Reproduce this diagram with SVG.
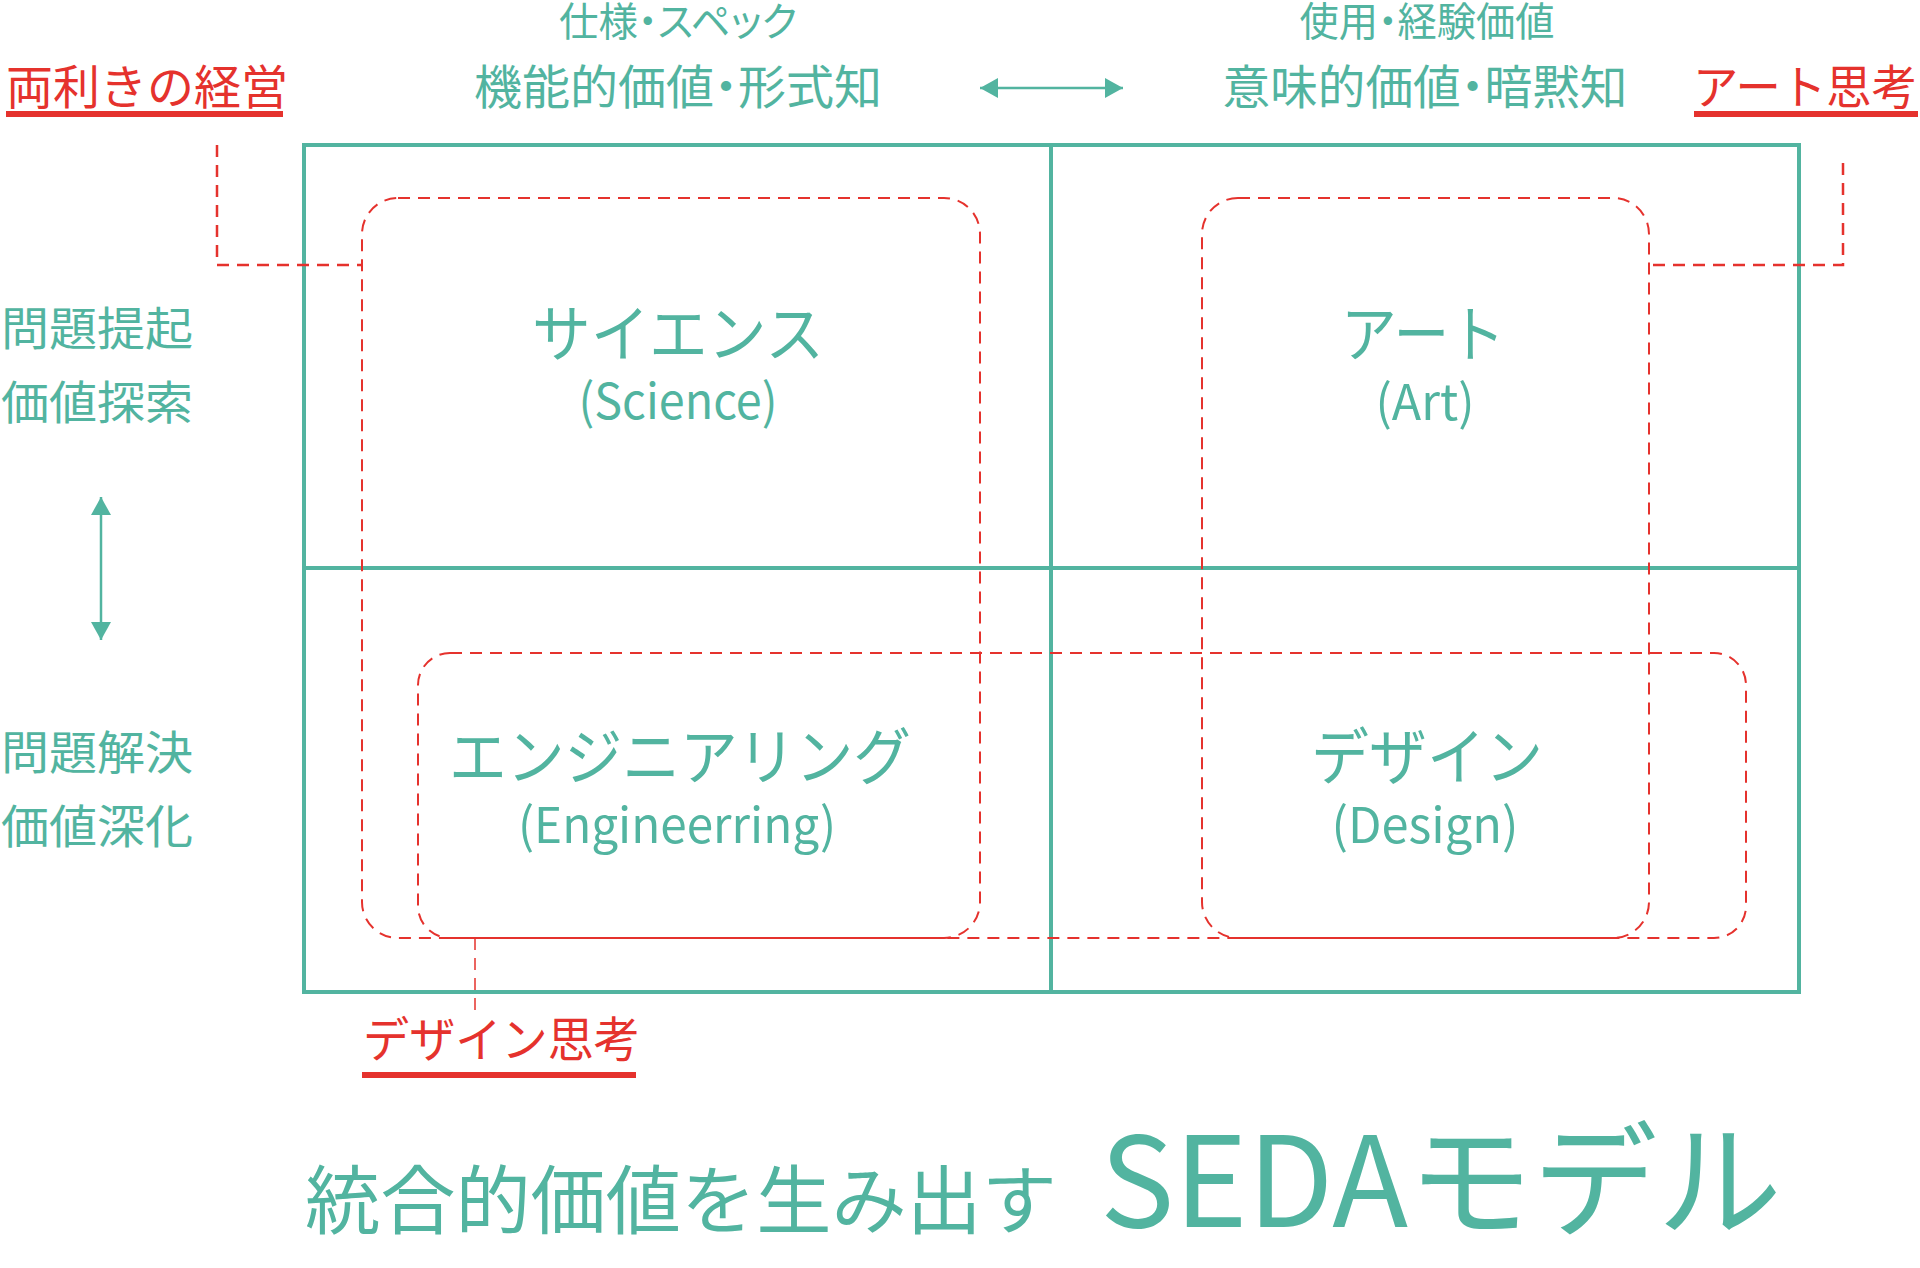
<svg xmlns="http://www.w3.org/2000/svg" width="1920" height="1268" viewBox="0 0 1920 1268">
<style>
text{font-family:"Noto Sans CJK JP","Noto Sans",sans-serif;}
.t{fill:#52b4a0;}
.r{fill:#e5322d;}
.p{font-feature-settings:"palt";}
.grid{fill:none;stroke:#52b4a0;stroke-width:4;}
.dash{fill:none;stroke:#e5322d;stroke-width:2;stroke-dasharray:12 8;}
.lead{fill:none;stroke:#e5322d;stroke-width:2.5;stroke-dasharray:12 8;}
.arr{stroke:#52b4a0;stroke-width:2.5;fill:none;marker-start:url(#ah);marker-end:url(#ah);}
</style>
<defs>
<marker id="ah" markerUnits="userSpaceOnUse" markerWidth="20" markerHeight="20" refX="18" refY="10" orient="auto-start-reverse">
<path d="M0,0 L18,10 L0,20 Z" fill="#52b4a0"/>
</marker>
</defs>
<rect width="1920" height="1268" fill="#ffffff"/>

<g id="matrix">
<rect class="grid" x="304" y="145" width="1495" height="847"/>
<line class="grid" x1="304" y1="568" x2="1799" y2="568"/>
<line class="grid" x1="1051" y1="145" x2="1051" y2="992"/>
</g>

<g id="group-science">
<rect class="dash" x="362" y="198" width="618" height="740" rx="36" ry="36"/>
</g>
<g id="group-art">
<rect class="dash" x="1202" y="198" width="447" height="740" rx="36" ry="36"/>
</g>
<g id="group-design-thinking">
<rect class="dash" x="418" y="653" width="1328" height="285" rx="32" ry="32"/>
</g>

<g id="connectors">
<path class="lead" d="M217,145 V265 H362"/>
<path class="lead" d="M1843,163 V265 H1649"/>
<path class="dash" style="stroke-width:1.5" d="M475,938 V1012"/>
<line class="arr" x1="980" y1="88" x2="1123" y2="88"/>
<line class="arr" x1="101" y1="497" x2="101" y2="640"/>
</g>

<g id="label-ambidextrous">
<text class="r" x="6" y="104" font-size="47" textLength="282" lengthAdjust="spacingAndGlyphs">両利きの経営</text>
<rect x="6" y="111" width="277" height="6" fill="#e5322d"/>
</g>
<g id="label-art-thinking">
<text class="r" x="1693" y="104" font-size="47" textLength="224" lengthAdjust="spacingAndGlyphs">アート思考</text>
<rect x="1694" y="111" width="224" height="6" fill="#e5322d"/>
</g>
<g id="label-design-thinking">
<text class="r" x="363" y="1057" font-size="48" textLength="277" lengthAdjust="spacingAndGlyphs">デザイン思考</text>
<rect x="362" y="1072" width="274" height="6" fill="#e5322d"/>
</g>

<g id="header-left">
<text class="t p" x="678" y="36" font-size="40" text-anchor="middle" textLength="238" lengthAdjust="spacingAndGlyphs">仕様・スペック</text>
<text class="t p" x="678" y="104" font-size="47" text-anchor="middle" textLength="408" lengthAdjust="spacingAndGlyphs">機能的価値・形式知</text>
</g>
<g id="header-right">
<text class="t p" x="1427" y="36" font-size="40" text-anchor="middle" textLength="255" lengthAdjust="spacingAndGlyphs">使用・経験価値</text>
<text class="t p" x="1425" y="104" font-size="47" text-anchor="middle" textLength="405" lengthAdjust="spacingAndGlyphs">意味的価値・暗黙知</text>
</g>

<g id="side-top">
<text class="t" x="1" y="345" font-size="46" textLength="192" lengthAdjust="spacingAndGlyphs">問題提起</text>
<text class="t" x="1" y="419" font-size="46" textLength="192" lengthAdjust="spacingAndGlyphs">価値探索</text>
</g>
<g id="side-bottom">
<text class="t" x="1" y="769" font-size="46" textLength="192" lengthAdjust="spacingAndGlyphs">問題解決</text>
<text class="t" x="1" y="843" font-size="46" textLength="192" lengthAdjust="spacingAndGlyphs">価値深化</text>
</g>

<g id="node-science">
<text class="t" x="678" y="357" font-size="62" text-anchor="middle" textLength="292" lengthAdjust="spacingAndGlyphs">サイエンス</text>
<text class="t" x="678" y="419" font-size="49" text-anchor="middle" textLength="199" lengthAdjust="spacingAndGlyphs">(Science)</text>
</g>
<g id="node-art">
<text class="t" x="1423" y="357" font-size="62" text-anchor="middle" textLength="164" lengthAdjust="spacingAndGlyphs">アート</text>
<text class="t" x="1425" y="420" font-size="49" text-anchor="middle" textLength="99" lengthAdjust="spacingAndGlyphs">(Art)</text>
</g>
<g id="node-engineering">
<text class="t" x="680" y="780" font-size="62" text-anchor="middle" textLength="462" lengthAdjust="spacingAndGlyphs">エンジニアリング</text>
<text class="t" x="677" y="843" font-size="49" text-anchor="middle" textLength="318" lengthAdjust="spacingAndGlyphs">(Engineerring)</text>
</g>
<g id="node-design">
<text class="t" x="1427" y="780" font-size="62" text-anchor="middle" textLength="232" lengthAdjust="spacingAndGlyphs">デザイン</text>
<text class="t" x="1425" y="843" font-size="49" text-anchor="middle" textLength="187" lengthAdjust="spacingAndGlyphs">(Design)</text>
</g>

<g id="title">
<text class="t" x="305" y="1228" font-size="75" textLength="752" lengthAdjust="spacingAndGlyphs">統合的価値を生み出す</text>
<text class="t" x="1100" y="1227" font-size="125" textLength="682" lengthAdjust="spacingAndGlyphs">SEDAモデル</text>
</g>
</svg>
